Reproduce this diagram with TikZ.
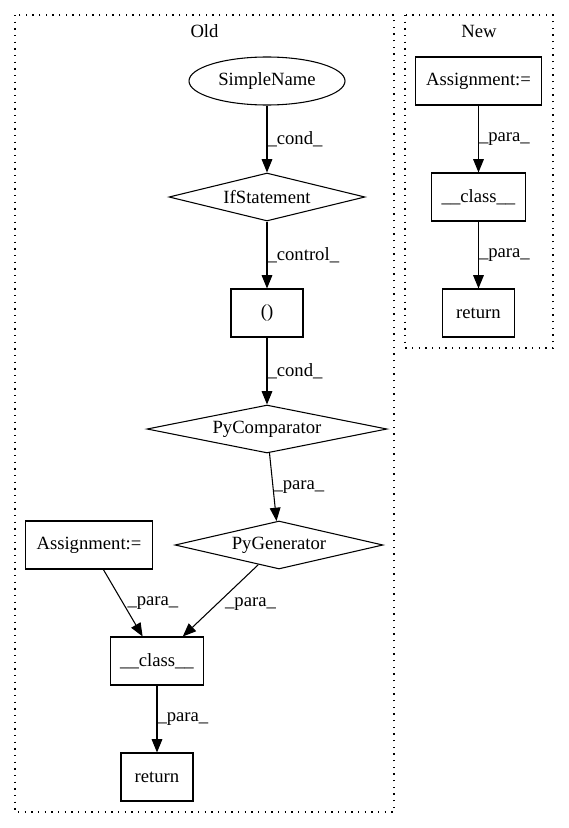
\documentclass[tikz,border=0pt]{standalone}
\usepackage{fontspec}
\setmainfont{Liberation Serif}
\usetikzlibrary{shapes.geometric,arrows.meta}
\begin{document}
\begin{tikzpicture}[x=0.75pt,y=-0.75pt,
  every node/.style={font=\fontsize{14}{16}\selectfont},
  box/.style={draw, rectangle, minimum height=36pt, inner sep=0pt, line width=0.8pt},
  dia/.style={draw, diamond, aspect=5, minimum height=36pt, inner sep=0pt, line width=0.8pt},
  ell/.style={draw, ellipse, minimum width=117pt, minimum height=36pt, inner sep=0pt, line width=0.8pt},
  conn/.style={draw, line width=0.8pt, -{Triangle[length=10pt,width=8pt]}},
  lbl/.style={anchor=west, inner sep=0pt},
  cluster/.style={draw, dash pattern=on 1pt off 4pt, line width=0.8pt}
]
\useasboundingbox (0,0) rectangle (568,828);
% clusters
\draw[cluster] (15,15) rectangle (394,812);
\draw[cluster] (405,15) rectangle (553,348);
\node (oldlbl) at (204.5,31) {Old};
\node (newlbl) at (479,31) {New};
% Old nodes
\node[ell] (sn) at (267,81) {SimpleName};
\node[dia, minimum width=147pt] (ifs) at (267,197) {IfStatement};
\node[box, minimum width=54pt] (par) at (267,313) {()};
\node[dia, minimum width=180pt] (pcmp) at (267,429) {PyComparator};
\node[dia, minimum width=156pt] (pgen) at (279,545) {PyGenerator};
\node[box, minimum width=95pt] (oasg) at (89,545) {Assignment:=};
\node[box, minimum width=70pt] (ocls) at (157,661) {\_\_class\_\_};
\node[box, minimum width=54pt] (oret) at (157,777) {return};
% New nodes
\node[box, minimum width=95pt] (nasg) at (478.5,81) {Assignment:=};
\node[box, minimum width=70pt] (ncls) at (478.5,197) {\_\_class\_\_};
\node[box, minimum width=54pt] (nret) at (478.5,313) {return};
% edges
\path[conn] (sn) -- node[lbl] {\_cond\_} (ifs);
\path[conn] (ifs) -- node[lbl] {\_control\_} (par);
\path[conn] (par) -- node[lbl] {\_cond\_} (pcmp);
\path[conn] (pcmp) -- node[lbl] {\_para\_} (pgen);
\path[conn] (oasg) -- node[lbl, xshift=3pt] {\_para\_} (ocls);
\path[conn] (pgen) -- node[lbl, xshift=3pt, yshift=-3pt] {\_para\_} (ocls);
\path[conn] (ocls) -- node[lbl] {\_para\_} (oret);
\path[conn] (nasg) -- node[lbl] {\_para\_} (ncls);
\path[conn] (ncls) -- node[lbl] {\_para\_} (nret);
\end{tikzpicture}
\end{document}
